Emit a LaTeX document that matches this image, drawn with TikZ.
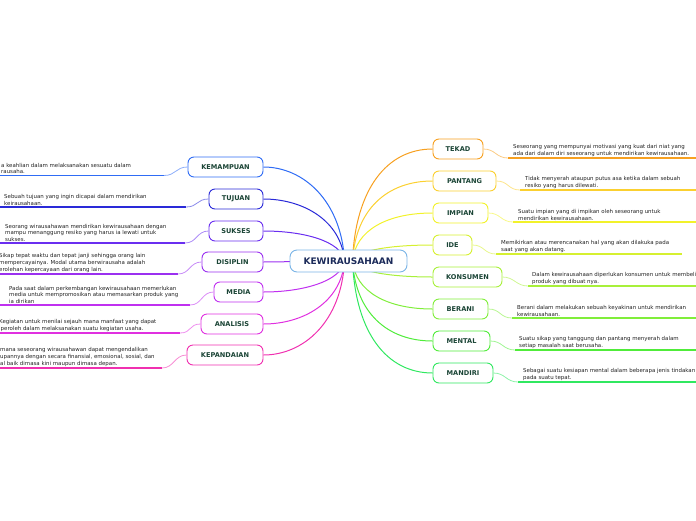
\documentclass[tikz,border=0pt]{standalone}
\usepackage{fontspec}
\setmainfont{DejaVu Sans}
\usetikzlibrary{backgrounds}
\definecolor{cKem}{HTML}{2F6CF5}
\definecolor{cTuj}{HTML}{2A2AD8}
\definecolor{cSuk}{HTML}{6A2EF0}
\definecolor{cDis}{HTML}{9B30F0}
\definecolor{cMed}{HTML}{C030F0}
\definecolor{cAna}{HTML}{E030E0}
\definecolor{cKep}{HTML}{F030B0}
\definecolor{cTek}{HTML}{F7A020}
\definecolor{cPan}{HTML}{FBD030}
\definecolor{cImp}{HTML}{F2F22A}
\definecolor{cIde}{HTML}{D6F030}
\definecolor{cKon}{HTML}{A8F03A}
\definecolor{cBer}{HTML}{80EE3A}
\definecolor{cMen}{HTML}{50EC3A}
\definecolor{cMan}{HTML}{30E860}
\definecolor{centralc}{HTML}{7AB4E6}
\definecolor{centraltext}{HTML}{1C2B5A}
\definecolor{labeltext}{HTML}{1B4536}
\definecolor{desctext}{HTML}{222222}
\begin{document}
\begin{tikzpicture}[x=1pt,y=-1pt,
  topic/.style={draw=#1,fill=white,line width=0.9pt,rounded corners=6pt,minimum height=20pt,inner sep=0pt,text=labeltext,font=\fontsize{6.6}{7}\selectfont\bfseries},
  desc/.style={anchor=south west,align=left,inner sep=0pt,text=desctext,font=\fontsize{5.45}{6.6}\selectfont},
  link/.style={draw=#1,line width=1pt},
  uline/.style={draw=#1,line width=1.6pt},
  twig/.style={draw=#1!55!white,line width=0.8pt}]
\useasboundingbox (0,0) rectangle (696,520);
\node[draw=centralc,fill=white,line width=0.9pt,rounded corners=7pt,minimum width=117pt,minimum height=22pt,inner sep=0pt,text=centraltext,font=\fontsize{9}{10}\selectfont\bfseries] (c) at (348.5,261) {KEWIRAUSAHAAN};

% left topics
\node[topic=cKem,minimum width=75pt] (kem) at (225.5,167) {KEMAMPUAN};
\node[topic=cTuj,minimum width=54pt] (tuj) at (236,199) {TUJUAN};
\node[topic=cSuk,minimum width=54pt] (suk) at (236,231) {SUKSES};
\node[topic=cDis,minimum width=61pt] (dis) at (232.5,262) {DISIPLIN};
\node[topic=cMed,minimum width=49pt] (med) at (238.5,292) {MEDIA};
\node[topic=cAna,minimum width=62pt] (ana) at (232,324) {ANALISIS};
\node[topic=cKep,minimum width=76pt] (kep) at (225,355) {KEPANDAIAN};

% right topics
\node[topic=cTek,minimum width=50pt] (tek) at (458,149) {TEKAD};
\node[topic=cPan,minimum width=63pt] (pan) at (464.5,181) {PANTANG};
\node[topic=cImp,minimum width=55pt] (imp) at (460.5,213) {IMPIAN};
\node[topic=cIde,minimum width=39pt] (ide) at (452.5,245) {IDE};
\node[topic=cKon,minimum width=69pt] (kon) at (467.5,277) {KONSUMEN};
\node[topic=cBer,minimum width=55pt] (ber) at (460.5,309) {BERANI};
\node[topic=cMen,minimum width=57pt] (men) at (461.5,341) {MENTAL};
\node[topic=cMan,minimum width=60pt] (man) at (463,373) {MANDIRI};

\begin{pgfonlayer}{background}
\draw[link=cKem] ([xshift=-4pt]c.center) .. controls +(-3,-60) and +(40,0) .. (kem.east);
\draw[link=cTuj] ([xshift=-4pt]c.center) .. controls +(-3,-40) and +(40,0) .. (tuj.east);
\draw[link=cSuk] ([xshift=-4pt]c.center) .. controls +(-3,-20) and +(40,0) .. (suk.east);
\draw[link=cDis] ([xshift=-4pt]c.center) -- (dis.east);
\draw[link=cMed] ([xshift=-4pt]c.center) .. controls +(-3,20) and +(40,0) .. (med.east);
\draw[link=cAna] ([xshift=-4pt]c.center) .. controls +(-3,41) and +(40,0) .. (ana.east);
\draw[link=cKep] ([xshift=-4pt]c.center) .. controls +(-3,61) and +(40,0) .. (kep.east);
\draw[link=cTek] ([xshift=4pt]c.center) .. controls +(3,-73) and +(-45,0) .. (tek.west);
\draw[link=cPan] ([xshift=4pt]c.center) .. controls +(3,-52) and +(-45,0) .. (pan.west);
\draw[link=cImp] ([xshift=4pt]c.center) .. controls +(3,-31) and +(-45,0) .. (imp.west);
\draw[link=cIde] ([xshift=4pt]c.center) .. controls +(3,-10) and +(-45,0) .. (ide.west);
\draw[link=cKon] ([xshift=4pt]c.center) .. controls +(3,10) and +(-45,0) .. (kon.west);
\draw[link=cBer] ([xshift=4pt]c.center) .. controls +(3,31) and +(-45,0) .. (ber.west);
\draw[link=cMen] ([xshift=4pt]c.center) .. controls +(3,52) and +(-45,0) .. (men.west);
\draw[link=cMan] ([xshift=4pt]c.center) .. controls +(3,73) and +(-45,0) .. (man.west);
\end{pgfonlayer}

% left descriptions
\coordinate (kemA) at (0,175.5); \coordinate (kemB) at (164,175.5);
\draw[uline=cKem] (kemA) -- (kemB);
\draw[twig=cKem] (kem.west) .. controls +(-12,0) and +(12,0) .. (kemB);
\node[desc] (kemT) at (1,174) {a keahlian dalam melaksanakan sesuatu dalam\\rausaha.};

\coordinate (tujA) at (0,207); \coordinate (tujB) at (186,207);
\draw[uline=cTuj] (tujA) -- (tujB);
\draw[twig=cTuj] (tuj.west) .. controls +(-12,0) and +(12,0) .. (tujB);
\node[desc] (tujT) at (4,205.5) {Sebuah tujuan yang ingin dicapai dalam mendirikan\\keirausahaan.};

\coordinate (sukA) at (0,243); \coordinate (sukB) at (185,243);
\draw[uline=cSuk] (sukA) -- (sukB);
\draw[twig=cSuk] (suk.west) .. controls +(-12,0) and +(12,0) .. (sukB);
\node[desc] (sukT) at (5,241.5) {Seorang wirausahawan mendirikan kewirausahaan dengan\\mampu menanggung resiko yang harus ia lewati untuk\\sukses.};

\coordinate (disA) at (0,274); \coordinate (disB) at (178,274);
\draw[uline=cDis] (disA) -- (disB);
\draw[twig=cDis] (dis.west) .. controls +(-12,0) and +(12,0) .. (disB);
\node[desc] (disT) at (-1,272.5) {Sikap tepat waktu dan tepat janji sehingga orang lain\\mempercayainya. Modal utama berwirausaha adalah\\erolehan kepercayaan dari orang lain.};

\coordinate (medA) at (0,305); \coordinate (medB) at (190,305);
\draw[uline=cMed] (medA) -- (medB);
\draw[twig=cMed] (med.west) .. controls +(-12,0) and +(12,0) .. (medB);
\node[desc] (medT) at (9,303.5) {Pada saat dalam perkembangan kewirausahaan memerlukan\\media untuk mempromosikan atau memasarkan produk yang\\ia dirikan};

\coordinate (anaA) at (0,333); \coordinate (anaB) at (180,333);
\draw[uline=cAna] (anaA) -- (anaB);
\draw[twig=cAna] (ana.west) .. controls +(-12,0) and +(12,0) .. (anaB);
\node[desc] (anaT) at (-1,331.5) {Kegiatan untuk menilai sejauh mana manfaat yang dapat\\iperoleh dalam melaksanakan suatu kegiatan usaha.};

\coordinate (kepA) at (0,368); \coordinate (kepB) at (162,368);
\draw[uline=cKep] (kepA) -- (kepB);
\draw[twig=cKep] (kep.west) .. controls +(-12,0) and +(12,0) .. (kepB);
\node[desc] (kepT) at (0,366.5) {mana seseorang wirausahawan dapat mengendalikan\\upannya dengan secara finansial, emosional, sosial, dan\\al baik dimasa kini maupun dimasa depan.};

% right descriptions
\coordinate (tekA) at (508,158); \coordinate (tekB) at (696,158);
\draw[uline=cTek] (tekA) -- (tekB);
\draw[twig=cTek] (tek.east) .. controls +(12,0) and +(-12,0) .. (tekA);
\node[desc] (tekT) at (513,156.5) {Seseorang yang mempunyai motivasi yang kuat dari niat yang\\ada dari dalam diri seseorang untuk mendirikan kewirausahaan.};

\coordinate (panA) at (520,190); \coordinate (panB) at (696,190);
\draw[uline=cPan] (panA) -- (panB);
\draw[twig=cPan] (pan.east) .. controls +(12,0) and +(-12,0) .. (panA);
\node[desc] (panT) at (525,188.5) {Tidak menyerah ataupun putus asa ketika dalam sebuah\\resiko yang harus dilewati.};

\coordinate (impA) at (513,222); \coordinate (impB) at (696,222);
\draw[uline=cImp] (impA) -- (impB);
\draw[twig=cImp] (imp.east) .. controls +(12,0) and +(-12,0) .. (impA);
\node[desc] (impT) at (518,220.5) {Suatu impian yang di impikan oleh seseorang untuk\\mendirikan kewirausahaan.};

\coordinate (ideA) at (496,254); \coordinate (ideB) at (682,254);
\draw[uline=cIde] (ideA) -- (ideB);
\draw[twig=cIde] (ide.east) .. controls +(12,0) and +(-12,0) .. (ideA);
\node[desc] (ideT) at (501,252.5) {Memikirkan atau merencanakan hal yang akan dilakuka pada\\saat yang akan datang.};

\coordinate (konA) at (528,286); \coordinate (konB) at (696,286);
\draw[uline=cKon] (konA) -- (konB);
\draw[twig=cKon] (kon.east) .. controls +(12,0) and +(-12,0) .. (konA);
\node[desc] (konT) at (532,284.5) {Dalam kewirausahaan diperlukan konsumen untuk membeli\\produk yang dibuat nya.};

\coordinate (berA) at (512,318); \coordinate (berB) at (696,318);
\draw[uline=cBer] (berA) -- (berB);
\draw[twig=cBer] (ber.east) .. controls +(12,0) and +(-12,0) .. (berA);
\node[desc] (berT) at (517,316.5) {Berani dalam melakukan sebuah keyakinan untuk mendirikan\\kewirausahaan.};

\coordinate (menA) at (515,350); \coordinate (menB) at (696,350);
\draw[uline=cMen] (menA) -- (menB);
\draw[twig=cMen] (men.east) .. controls +(12,0) and +(-12,0) .. (menA);
\node[desc] (menT) at (519,348.5) {Suatu sikap yang tanggung dan pantang menyerah dalam\\setiap masalah saat berusaha.};

\coordinate (manA) at (518,382); \coordinate (manB) at (696,382);
\draw[uline=cMan] (manA) -- (manB);
\draw[twig=cMan] (man.east) .. controls +(12,0) and +(-12,0) .. (manA);
\node[desc] (manT) at (523,380.5) {Sebagai suatu kesiapan mental dalam beberapa jenis tindakan\\pada suatu tepat.};
\end{tikzpicture}
\end{document}
